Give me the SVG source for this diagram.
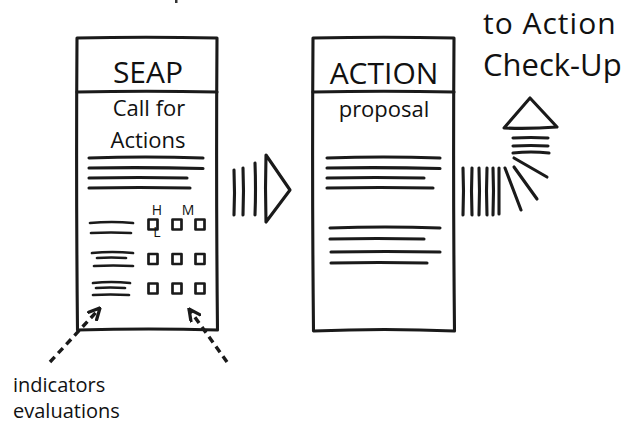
<svg xmlns="http://www.w3.org/2000/svg" width="628" height="423" viewBox="0 0 628 423">
<defs>
<style>
.ink{fill:none;stroke:#1a1a1a;stroke-width:3.1;stroke-linecap:round;stroke-linejoin:round}
.thin{fill:none;stroke:#1a1a1a;stroke-width:2.7;stroke-linecap:round;stroke-linejoin:round}
.txt{fill:#111111;font-family:"Open Sans","Noto Sans","DejaVu Sans",sans-serif}
.dash{fill:none;stroke:#1a1a1a;stroke-width:3.4;stroke-dasharray:7 5}
</style>
<marker id="vhead" viewBox="0 0 10 10" refX="9" refY="5" markerWidth="4" markerHeight="4" orient="auto" markerUnits="strokeWidth">
<path d="M1,1 L9,5 L1,9" fill="none" stroke="#1a1a1a" stroke-width="2.4" stroke-linecap="round"/>
</marker>
</defs>
<rect width="628" height="423" fill="#ffffff"/>
<rect x="175" y="0" width="2.5" height="3" fill="#333"/>

<g id="seap">
<path class="ink" d="M77,38 Q145,36.5 217,38 Q216,185 217.5,330 Q150,328 77.5,330 Q76,185 77,38 Z"/>
<path class="ink" d="M77,92 Q146,90.5 217,92"/>
<text class="txt" x="148" y="83" font-size="30" text-anchor="middle">SEAP</text>
<text class="txt" x="149" y="116" font-size="22" text-anchor="middle">Call for</text>
<text class="txt" x="148" y="148" font-size="22" text-anchor="middle">Actions</text>
<path class="ink" d="M89,158 Q145,156 203,158"/>
<path class="ink" d="M89,168 Q146,167 203,168.5"/>
<path class="ink" d="M89,178 Q140,177 187,178"/>
<path class="ink" d="M89,188 Q140,187 190,188"/>
<path class="thin" d="M90,223 Q112,221 133,223"/>
<path class="thin" d="M91,233 Q111,232 131,233"/>
<path class="thin" d="M92,253 Q112,251 133,253"/>
<path class="thin" d="M97,258 Q111,257 126,258"/>
<path class="thin" d="M94,266 Q113,265 133,266"/>
<path class="thin" d="M93,283 Q111,281 130,283"/>
<path class="thin" d="M96,288 Q110,287 125,288"/>
<path class="thin" d="M93,295 Q110,294 129,295"/>
<g class="thin">
<rect x="148.5" y="219.5" width="9" height="10"/>
<rect x="172.5" y="219.5" width="9" height="10"/>
<rect x="195.5" y="219.5" width="9" height="10"/>
<rect x="148.5" y="254" width="9" height="10"/>
<rect x="172.5" y="254" width="9" height="10"/>
<rect x="195.5" y="254" width="9" height="10"/>
<rect x="148.5" y="283.5" width="9" height="10"/>
<rect x="172.5" y="283.5" width="9" height="10"/>
<rect x="195.5" y="283.5" width="9" height="10"/>
</g>
<text class="txt" x="157" y="215" font-size="14" text-anchor="middle">H</text>
<text class="txt" x="188" y="215" font-size="14" text-anchor="middle">M</text>
<text class="txt" x="157" y="237" font-size="14" text-anchor="middle">L</text>
</g>

<g id="action">
<path class="ink" d="M313,38 Q384,36.5 454,38 Q453,185 454.5,331 Q385,328 313.5,331 Q312,185 313,38 Z"/>
<path class="ink" d="M313,92 Q384,90.5 454,92"/>
<text class="txt" x="384" y="84" font-size="30" text-anchor="middle">ACTION</text>
<text class="txt" x="384" y="117" font-size="22" text-anchor="middle">proposal</text>
<path class="ink" d="M327,158 Q383,156 440,158"/>
<path class="ink" d="M327,168 Q384,167 440,168.5"/>
<path class="ink" d="M327,178 Q376,177 424,178"/>
<path class="ink" d="M327,188 Q380,187 433,188"/>
<path class="ink" d="M330,228 Q385,226 440,228"/>
<path class="ink" d="M330,239 Q377,238 424,239"/>
<path class="ink" d="M331,252 Q386,251 440,252"/>
<path class="ink" d="M331,263 Q379,262 427,263"/>
</g>

<g id="checkup-label">
<text class="txt" x="483" y="34" font-size="30" letter-spacing="1">to Action</text>
<text class="txt" x="483" y="76" font-size="31">Check-Up</text>
</g>

<g id="annotations">
<text class="txt" x="13" y="392" font-size="20">indicators</text>
<text class="txt" x="13" y="418" font-size="20">evaluations</text>
</g>

<g id="connectors">
<path class="dash" d="M50,362 L100,308" marker-end="url(#vhead)"/>
<path class="dash" d="M227,362 L189,309" marker-end="url(#vhead)"/>
<g id="arrow-seap-action">
<path class="ink" d="M234,170 Q235,193 234,215"/>
<path class="ink" d="M243,168 Q244,191 243,215"/>
<path class="ink" d="M255,163 Q256,189 255,215"/>
<path class="ink" d="M266,155 L290,190 L266,222 Q265,188 266,155 Z"/>
</g>
<g id="arrow-action-checkup">
<path class="ink" d="M463,168 Q464,191 463,215"/>
<path class="ink" d="M472,168 Q471,191 472,215"/>
<path class="ink" d="M479,168 Q480,191 479,215"/>
<path class="ink" d="M487,168 Q486,191 487,215"/>
<path class="ink" d="M493,168 Q494,191 493,215"/>
<path class="ink" d="M499,168 L499,214"/>
<path class="ink" d="M505,168 L521,210"/>
<path class="ink" d="M514,167 L537,199"/>
<path class="ink" d="M514,158 L547,177"/>
<path class="ink" d="M513,153 Q531,151 549,153"/>
<path class="ink" d="M513,146 Q531,145 548,146"/>
<path class="ink" d="M513,138 Q531,137 548,138"/>
<path class="ink" d="M530,98 L557,127 Q530,129 504,128 Z"/>
</g>
</g>
</svg>
